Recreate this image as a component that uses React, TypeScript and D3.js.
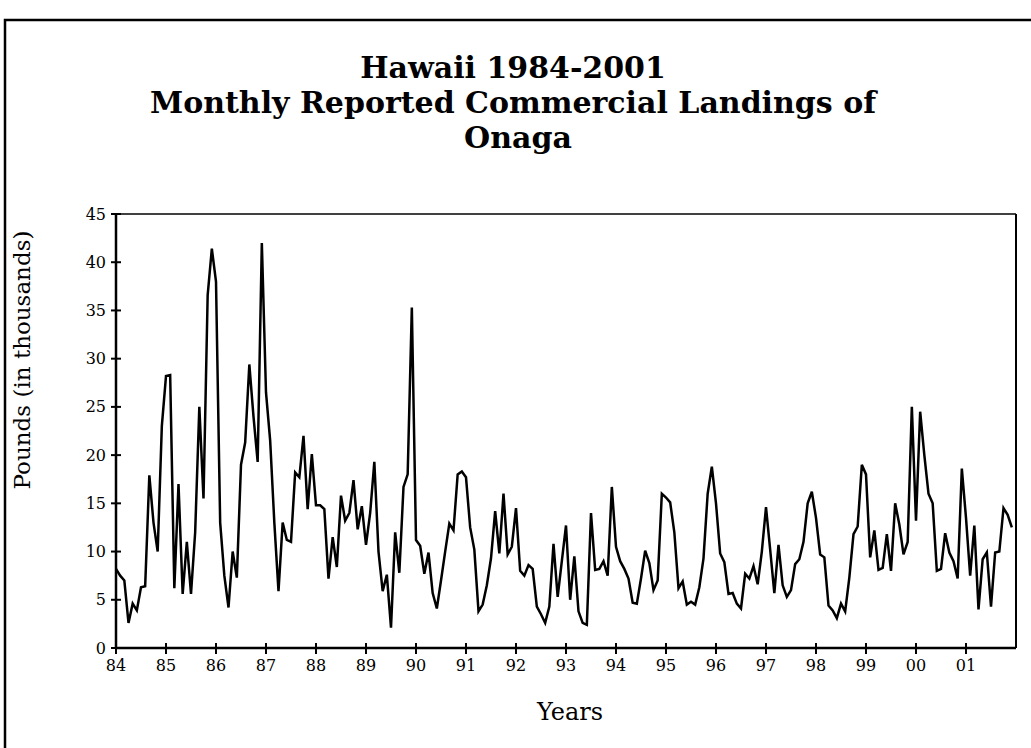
import React from "react";
import * as d3 from "d3";

const yearLabels = ["84","85","86","87","88","89","90","91","92","93","94","95","96","97","98","99","00","01"];
const yTicks = [0, 5, 10, 15, 20, 25, 30, 35, 40, 45];

const y1984 = [8.2, 7.5, 7.0, 2.6, 4.6, 3.9, 6.3, 6.4, 17.9, 13.0, 10.0, 23.0];
const y1985 = [28.2, 28.3, 6.2, 17.0, 5.6, 11.0, 5.6, 12.0, 25.0, 15.5, 36.6, 41.4];
const y1986 = [38.0, 13.0, 7.5, 4.2, 10.0, 7.3, 19.0, 21.3, 29.4, 24.0, 19.3, 42.0];
const y1987 = [26.5, 21.5, 13.0, 5.9, 13.0, 11.2, 11.0, 18.2, 17.7, 22.0, 14.4, 20.1];
const y1988 = [14.8, 14.8, 14.4, 7.2, 11.5, 8.4, 15.8, 13.2, 14.0, 17.4, 12.3, 14.7];
const y1989 = [10.7, 14.0, 19.3, 10.0, 5.9, 7.6, 2.1, 12.0, 7.8, 16.7, 18.0, 35.3];
const y1990 = [11.2, 10.6, 7.7, 9.9, 5.7, 4.1, 7.0, 10.0, 12.9, 12.2, 18.0, 18.3];
const y1991 = [17.7, 12.5, 10.2, 3.8, 4.5, 6.5, 9.3, 14.2, 9.8, 16.0, 9.7, 10.5];
const y1992 = [14.5, 8.0, 7.5, 8.6, 8.2, 4.3, 3.5, 2.6, 4.3, 10.8, 5.3, 9.0];
const y1993 = [12.7, 5.0, 9.5, 3.8, 2.6, 2.4, 14.0, 8.1, 8.2, 9.0, 7.5, 16.7];
const y1994 = [10.5, 9.0, 8.2, 7.2, 4.7, 4.6, 7.2, 10.1, 8.8, 6.0, 7.0, 16.0];
const y1995 = [15.6, 15.1, 12.0, 6.2, 6.9, 4.5, 4.8, 4.5, 6.3, 9.3, 16.0, 18.8];
const y1996 = [15.0, 9.8, 8.9, 5.6, 5.7, 4.6, 4.1, 7.7, 7.2, 8.5, 6.6, 10.0];
const y1997 = [14.6, 10.2, 5.7, 10.7, 6.5, 5.3, 6.0, 8.7, 9.2, 11.0, 15.0, 16.2];
const y1998 = [13.5, 9.7, 9.4, 4.4, 3.9, 3.1, 4.6, 3.8, 7.3, 11.8, 12.6, 19.0];
const y1999 = [18.0, 9.4, 12.2, 8.1, 8.3, 11.8, 8.0, 15.0, 12.8, 9.7, 11.0, 25.0];
const y2000 = [13.2, 24.5, 20.0, 16.0, 15.0, 8.0, 8.2, 11.9, 9.9, 9.0, 7.2, 18.6];
const y2001 = [13.5, 7.5, 12.7, 4.0, 9.2, 9.9, 4.3, 9.9, 10.0, 14.5, 13.8, 12.5];

const landings = [
  ...y1984, ...y1985, ...y1986, ...y1987, ...y1988, ...y1989,
  ...y1990, ...y1991, ...y1992, ...y1993, ...y1994, ...y1995,
  ...y1996, ...y1997, ...y1998, ...y1999, ...y2000, ...y2001,
];

const W = 1031;
const H = 748;
const left = 116;
const right = 1016;
const top = 214;
const bottom = 648;

export default function App() {
  const x = d3.scaleLinear().domain([0, 216]).range([left, right]);
  const y = d3.scaleLinear().domain([0, 45]).range([bottom, top]);
  const line = d3
    .line<number>()
    .x((_, i) => x(i))
    .y((d) => y(d));
  const serif = "'DejaVu Serif', serif";
  return (
    <svg
      width={W}
      height={H}
      style={{ position: "absolute", left: 0, top: 0, background: "#fff" }}
    >
      <rect x={0} y={0} width={W} height={H} fill="#fff" />
      <rect x={5} y={20} width={1200} height={900} fill="none" stroke="#000" strokeWidth={2.5} />
      <g fontFamily={serif} fontWeight="bold" fontSize={30} textAnchor="middle" fill="#000">
        <text x={513} y={78}>Hawaii 1984-2001</text>
        <text x={513} y={113}>Monthly Reported Commercial Landings of</text>
        <text x={518} y={148}>Onaga</text>
      </g>
      {/* plot frame */}
      <line x1={left} y1={top} x2={right} y2={top} stroke="#000" strokeWidth={1.5} />
      <line x1={right} y1={top} x2={right} y2={bottom} stroke="#000" strokeWidth={2} />
      <path d={line(landings) || ""} fill="none" stroke="#000" strokeWidth={2.5} strokeLinejoin="miter" />
      <line x1={left} y1={top} x2={left} y2={bottom} stroke="#000" strokeWidth={2.5} />
      <line x1={left} y1={bottom} x2={right} y2={bottom} stroke="#000" strokeWidth={2.5} />
      {yTicks.map((t) => (
        <g key={"y" + t}>
          <line x1={left - 5} x2={left + 5} y1={y(t)} y2={y(t)} stroke="#000" strokeWidth={2} />
          <text x={left - 10} y={y(t) + 5.5} textAnchor="end" fontFamily={serif} fontSize={16}>
            {t}
          </text>
        </g>
      ))}
      {yearLabels.map((lab, k) => (
        <g key={"x" + lab}>
          <line x1={x(k * 12)} x2={x(k * 12)} y1={bottom - 5} y2={bottom + 6} stroke="#000" strokeWidth={2} />
          <text x={x(k * 12)} y={bottom + 23} textAnchor="middle" fontFamily={serif} fontSize={16}>
            {lab}
          </text>
        </g>
      ))}
      <text x={570} y={720} textAnchor="middle" fontFamily={serif} fontSize={24}>
        Years
      </text>
      <text
        transform={`translate(30, 360) rotate(-90)`}
        textAnchor="middle"
        fontFamily={serif}
        fontSize={23}
      >
        Pounds (in thousands)
      </text>
    </svg>
  );
}
